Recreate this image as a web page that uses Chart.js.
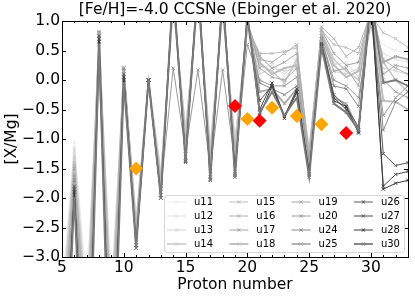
<!DOCTYPE html>
<html>
<head>
<meta charset="utf-8">
<script src="https://cdn.jsdelivr.net/npm/chart.js@4"></script>
<style>
  html, body { margin: 0; padding: 0; background: #fff; }
</style>
</head>
<body>
<canvas id="abund-chart" width="415" height="297"></canvas>
<script>
// proton numbers of the model yields (Z = 5 .. 33)
const protonNumbers = [5, 6, 7, 8, 9, 10, 11, 12, 13, 14, 15, 16, 17, 18, 19, 20, 21, 22, 23, 24, 25, 26, 27, 28, 29, 30, 31, 32, 33];

// [X/Mg] of the CCSN models
const u11 = [-3.6, -1.05, -3.5, 0.6, -3.4, 0.05, -2.3, 0, -1.5, 1.2, -0.75, 1.3, -1.05, 1.1, -0.95, 0.8, 0.15, 0.3, 0.05, 0.25, -1.1, 0.65, 0.3, 0.2, 0.15, 0.85, 0.6, 0.5, 0.45];
const u12 = [-3.8, -1.15, -3.7, 0.65, -3.6, 0.1, -2.35, 0, -1.55, 1.25, -0.8, 1.35, -1.1, 1.15, -1.0, 0.85, 0.2, 0.25, 0.1, 0.3, -1.15, 0.7, 0.25, 0.3, 0.05, 0.9, 0.45, 0.35, 0.3];
const u13 = [-4.0, -1.2, -3.9, 0.68, -3.8, 0.12, -2.4, 0, -1.6, 1.3, -0.85, 1.4, -1.15, 1.2, -1.05, 0.88, 0.1, 0.2, 0.15, 0.2, -1.2, 0.75, 0.15, 0.1, 0.2, 0.95, 0.2, 0.15, 0.1];
const u14 = [-4.2, -1.3, -4.1, 0.7, -4.0, 0.15, -2.45, 0, -1.65, 1.3, -0.9, 1.4, -1.2, 1.2, -1.1, 0.9, 0.25, 0.15, -0.05, 0.35, -1.2, 0.8, 0.35, 0.15, 0.0, 1.0, 0.3, 0.0, -0.2];
const u15 = [-4.4, -1.4, -4.3, 0.72, -4.2, 0.18, -2.5, 0, -1.7, 1.35, -1.0, 1.45, -1.3, 1.25, -1.2, 0.9, 0.45, 0.45, 0.48, 0.55, -1.25, 0.85, 0.6, 0.55, 0.45, 1.1, 0.8, 0.7, 0.55];
const u16 = [-4.6, -1.45, -4.5, 0.74, -4.4, 0.2, -2.55, 0, -1.75, 1.35, -1.05, 1.45, -1.35, 1.25, -1.25, 0.92, 0.35, 0.3, 0.45, 0.6, -1.3, 0.9, 0.7, 0.4, 0.55, 1.15, 0.35, 0.2, 0.1];
const u17 = [-4.8, -1.5, -4.8, 0.76, -4.6, 0.2, -2.6, 0, -1.8, 1.4, -1.1, 1.5, -1.4, 1.3, -1.3, 0.95, 0.4, 0.2, 0.3, 0.45, -1.35, 0.85, 0.45, 0.25, 0.3, 1.2, 0.0, -0.2, -0.3];
const u18 = [-5.0, -1.55, -5.0, 0.78, -4.8, 0.22, -2.6, 0, -1.8, 1.4, -1.15, 1.5, -1.45, 1.3, -1.35, 0.98, 0.3, 0.1, 0.2, 0.25, -1.35, 0.8, 0.25, 0.05, 0.15, 1.25, -0.35, -0.37, -0.5];
const u19 = [-5.2, -1.6, -5.2, 0.8, -5.0, 0.2, -2.65, 0, -1.85, 1.45, -1.2, 1.55, -1.5, 1.35, -1.4, 1.0, 0.2, 0.05, 0.0, 0.2, -1.4, 0.75, 0.15, 0.2, -0.1, 1.2, 0.1, 0.25, 0.2];
const u20 = [-5.4, -1.65, -5.5, 0.17, -5.2, -0.1, -2.65, 0, -1.85, 0.2, -1.2, 0.17, -1.5, 0.17, -1.4, 0.6, 0.0, -0.1, -0.1, 0.05, -1.4, 0.7, 0.0, -0.1, -0.3, 1.0, -0.6, -0.3, -0.1];
const u24 = [-5.6, -1.7, -5.7, 0.82, -5.4, 0.18, -2.7, 0, -1.9, 1.5, -1.25, 1.6, -1.55, 1.4, -1.45, 1.0, -0.05, -0.15, -0.25, -0.1, -1.45, 0.7, -0.1, -0.15, -0.45, 1.3, -0.85, -0.37, -0.2];
const u25 = [-5.8, -1.75, -6.0, 0.8, -5.6, 0.15, -2.75, 0, -1.95, 1.5, -1.3, 1.6, -1.6, 1.4, -1.5, 1.05, -0.2, -0.15, -0.4, -0.15, -1.5, 0.65, -0.3, -0.4, -0.85, 1.3, 0.3, 0.4, 0.35];
const u26 = [-6.0, -1.8, -6.2, 0.75, -5.8, 0.1, -2.8, 0, -1.95, 1.55, -1.35, 1.65, -1.65, 1.45, -1.55, 1.05, -0.35, -0.1, -0.6, -0.2, -1.55, 0.62, -0.25, -0.45, -0.8, 1.35, -1.25, -1.45, -1.4];
const u27 = [-6.2, -1.85, -6.5, 0.7, -6.0, 0.05, -2.8, 0, -2.0, 1.55, -1.37, 1.65, -1.68, 1.45, -1.6, 1.1, -0.5, -0.05, -0.62, -0.15, -1.6, 0.6, -0.3, -0.5, -0.88, 1.4, -1.8, -1.6, -1.55];
const u28 = [-6.4, -1.9, -6.7, 0.65, -6.2, 0.0, -2.85, 0, -2.0, 1.6, -1.38, 1.7, -1.7, 1.5, -1.62, 1.1, -0.6, -0.1, -0.65, -0.2, -1.62, 0.58, -0.35, -0.45, -0.9, 1.4, -1.85, -1.75, -1.7];
const u30 = [-6.6, -2.0, -7.0, 0.6, -6.5, -0.05, -2.85, 0, -2.0, 1.6, -1.4, 1.7, -1.7, 1.5, -1.65, 1.1, -0.55, -0.2, -0.6, -0.3, -1.65, 0.55, -0.4, -0.55, -0.85, 1.45, -0.05, 0.0, -0.1];

const modelNames = ['u11', 'u12', 'u13', 'u14', 'u15', 'u16', 'u17', 'u18', 'u19', 'u20', 'u24', 'u25', 'u26', 'u27', 'u28', 'u30'];
const modelValues = [u11, u12, u13, u14, u15, u16, u17, u18, u19, u20, u24, u25, u26, u27, u28, u30];

// observed stars
const orangeZ = [11, 20, 22, 24, 26];
const orangeVal = [-1.5, -0.66, -0.47, -0.61, -0.75];
const redZ = [19, 21, 28];
const redVal = [-0.44, -0.69, -0.9];

const xTickValues = [5, 10, 15, 20, 25, 30];
const yTickValues = [1.0, 0.5, 0.0, -0.5, -1.0, -1.5, -2.0, -2.5, -3.0];

const modelColors = ['#ececec', '#e0e0e0', '#d4d4d4', '#cacaca', '#bdbdbd', '#b0b0b0', '#a3a3a3', '#bbbbbb',
                     '#a8a8a8', '#9a9a9a', '#8a8a8a', '#aaaaaa', '#5a5a5a', '#4a4a4a', '#3a3a3a', '#7a7a7a'];
const modelWidths = [1, 1, 1, 1.6, 1, 1, 1, 1.8, 1, 1, 1, 1.8, 1, 1, 1, 1.8];

const FONT = 'DejaVu Sans';

// later models drawn on top (lower order = drawn last in Chart.js)
const datasets = modelNames.map((name, i) => ({
    label: name,
    order: 100 - i,
    data: protonNumbers.map((z, k) => ({ x: z, y: modelValues[i][k] })),
    borderColor: modelColors[i],
    borderWidth: modelWidths[i],
    pointStyle: 'crossRot',
    pointRadius: 2.2,
    pointBorderWidth: 1,
    pointBorderColor: modelColors[i],
    pointBackgroundColor: modelColors[i],
    tension: 0,
    clip: 0
}));

datasets.push({
    label: 'orange',
    order: 1,
    data: orangeZ.map((z, k) => ({ x: z, y: orangeVal[k] })),
    showLine: false,
    pointStyle: 'rectRot',
    pointRadius: 7,
    pointBorderWidth: 0,
    pointBackgroundColor: '#ffa500',
    clip: 0
});
datasets.push({
    label: 'red',
    order: 0,
    data: redZ.map((z, k) => ({ x: z, y: redVal[k] })),
    showLine: false,
    pointStyle: 'rectRot',
    pointRadius: 7,
    pointBorderWidth: 0,
    pointBackgroundColor: '#ff0000',
    clip: 0
});

// frame, inward ticks, title and the boxed legend
const decorations = {
    id: 'decorations',
    afterDatasetsDraw(chart) {
        const { ctx, chartArea: a, scales } = chart;
        ctx.save();
        ctx.strokeStyle = '#000';
        ctx.lineWidth = 1;
        ctx.beginPath();
        for (let z = 5; z <= 33; z++) {
            const px = Math.round(scales.x.getPixelForValue(z)) + 0.5;
            const len = z % 5 === 0 ? 4 : 2;
            ctx.moveTo(px, a.bottom); ctx.lineTo(px, a.bottom - len);
            ctx.moveTo(px, a.top); ctx.lineTo(px, a.top + len);
        }
        yTickValues.forEach(v => {
            const py = Math.round(scales.y.getPixelForValue(v)) + 0.5;
            ctx.moveTo(a.left, py); ctx.lineTo(a.left + 4, py);
            ctx.moveTo(a.right, py); ctx.lineTo(a.right - 4, py);
        });
        ctx.stroke();
        ctx.strokeRect(Math.round(a.left) + 0.5, Math.round(a.top) + 0.5,
                       Math.round(a.right - a.left), Math.round(a.bottom - a.top));

        // title centred over the axes
        ctx.fillStyle = '#000';
        ctx.font = '15.5px "' + FONT + '"';
        ctx.textAlign = 'center';
        ctx.textBaseline = 'middle';
        ctx.fillText('[Fe/H]=-4.0 CCSNe (Ebinger et al. 2020)', (a.left + a.right) / 2, 10);

        // legend
        const w = 240, h = 57;
        const x0 = a.right - 4 - w, y0 = a.bottom - 5 - h;
        ctx.beginPath();
        ctx.roundRect(x0 + 0.5, y0 + 0.5, w, h, 3);
        ctx.fillStyle = 'rgba(255,255,255,0.8)';
        ctx.fill();
        ctx.strokeStyle = '#d6d6d6';
        ctx.stroke();

        ctx.font = '10px "' + FONT + '"';
        ctx.textAlign = 'left';
        modelNames.forEach((name, i) => {
            const col = Math.floor(i / 4), row = i % 4;
            const lx = x0 + 3 + col * 62.3;
            const ly = y0 + 7 + row * 14;
            ctx.strokeStyle = modelColors[i];
            ctx.lineWidth = modelWidths[i];
            ctx.beginPath();
            ctx.moveTo(lx, ly); ctx.lineTo(lx + 19, ly);
            ctx.stroke();
            ctx.lineWidth = 1;
            ctx.beginPath();
            ctx.moveTo(lx + 8, ly - 1.6); ctx.lineTo(lx + 11, ly + 1.6);
            ctx.moveTo(lx + 8, ly + 1.6); ctx.lineTo(lx + 11, ly - 1.6);
            ctx.stroke();
            ctx.fillStyle = '#000';
            ctx.fillText(name, lx + 27, ly + 0.5);
        });
        ctx.restore();
    }
};

const minus = v => v.toFixed(1).replace('-', '\u2212');

new Chart(document.getElementById('abund-chart').getContext('2d'), {
    type: 'line',
    data: { datasets: datasets },
    plugins: [decorations],
    options: {
        responsive: false,
        animation: false,
        devicePixelRatio: 1,
        layout: { padding: { top: 21, right: 5, left: 0, bottom: 0 } },
        plugins: {
            legend: { display: false },
            tooltip: { enabled: false },
            title: { display: false }
        },
        scales: {
            x: {
                type: 'linear',
                min: 5,
                max: 33,
                afterBuildTicks: scale => { scale.ticks = xTickValues.map(v => ({ value: v })); },
                afterFit: scale => { scale.height = 40; },
                grid: { display: false, drawTicks: false, tickLength: 0 },
                border: { display: false },
                ticks: {
                    autoSkip: false,
                    maxRotation: 0,
                    padding: 2,
                    color: '#000',
                    font: { family: FONT, size: 15.5 },
                    callback: v => String(v)
                },
                title: {
                    display: true,
                    text: 'Proton number',
                    color: '#000',
                    font: { family: FONT, size: 15.5 },
                    padding: { top: 0, bottom: 3 }
                }
            },
            y: {
                type: 'linear',
                min: -3,
                max: 1,
                afterBuildTicks: scale => { scale.ticks = yTickValues.map(v => ({ value: v })); },
                afterFit: scale => { scale.width = 62; },
                grid: { display: false, drawTicks: false, tickLength: 0 },
                border: { display: false },
                ticks: {
                    autoSkip: false,
                    padding: 2,
                    color: '#000',
                    font: { family: FONT, size: 15.5 },
                    callback: v => minus(v)
                },
                title: {
                    display: true,
                    text: '[X/Mg]',
                    color: '#000',
                    font: { family: FONT, size: 15.5 },
                    padding: { top: 3, bottom: 0 }
                }
            }
        }
    }
});
</script>
</body>
</html>
